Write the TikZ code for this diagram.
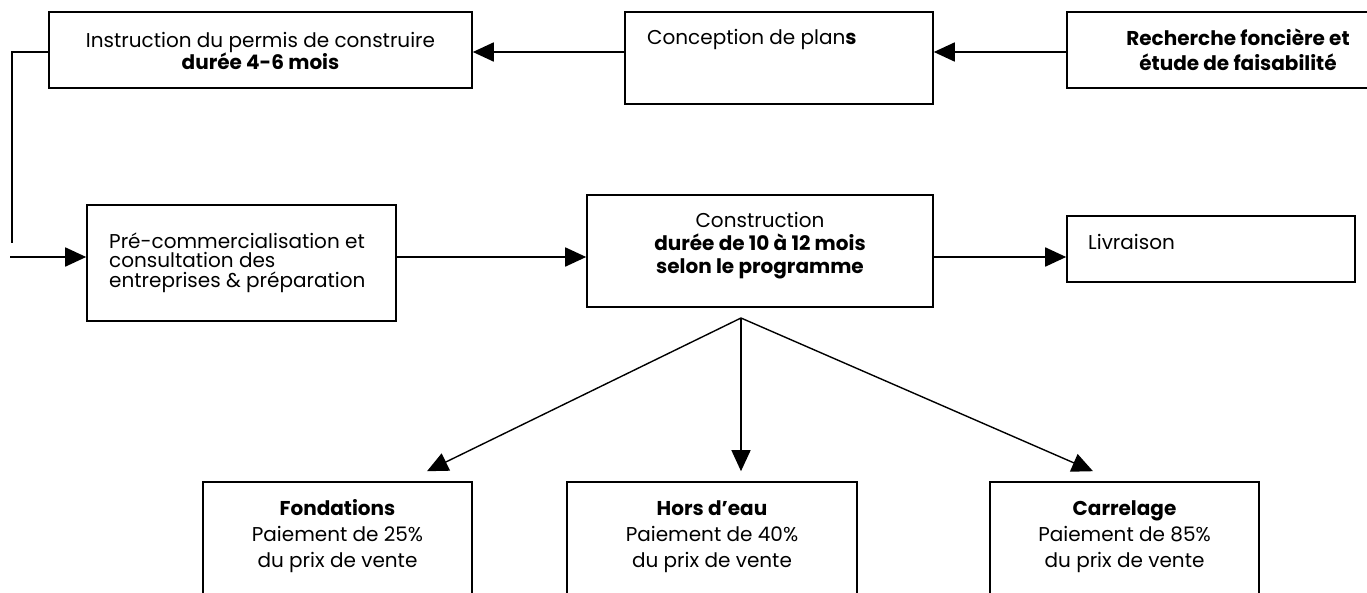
\documentclass[tikz,border=0pt]{standalone}
\usepackage{fontspec}
\setmainfont{Poppins}
\usetikzlibrary{arrows.meta,calc}
\begin{document}
\begin{tikzpicture}[x=1pt,y=-1pt,
  box/.style={draw, line width=1.6pt, inner sep=0pt},
  txt/.style={inner sep=0pt, anchor=base},
  arr/.style={line width=1.8pt, -{Triangle[length=21pt,width=19pt]}},
  farr/.style={line width=1.4pt, -{Triangle[length=21pt,width=19pt]}},
  plain/.style={line width=1.8pt}]
\useasboundingbox (0,0) rectangle (1367,592);
\clip (0,0) rectangle (1367,592);
% boxes
\node[box, minimum width=423pt, minimum height=76pt] (inst) at (260.5,50) {};
\node[box, minimum width=308pt, minimum height=92pt] (conc) at (779,58) {};
\node[box, minimum width=342pt, minimum height=76pt] (rech) at (1238,50) {};
\node[box, minimum width=309pt, minimum height=116pt] (pre) at (241.5,263) {};
\node[box, minimum width=346pt, minimum height=112pt] (cons) at (760,251) {};
\node[box, minimum width=288pt, minimum height=66pt] (livr) at (1211,249) {};
\node[box, minimum width=269pt, minimum height=128pt] (fond) at (337.5,546) {};
\node[box, minimum width=290pt, minimum height=128pt] (hors) at (712,546) {};
\node[box, minimum width=269pt, minimum height=128pt] (carr) at (1124.5,546) {};
% texts (base anchor = baseline of the last line)
\node[txt, align=center, font=\fontsize{20}{22}\selectfont] (instT) at (260.5,69)
  {Instruction du permis de construire\\\textbf{durée 4-6 mois}};
\node[txt, anchor=base west, font=\fontsize{20}{22}\selectfont] (concT) at (647,44)
  {Conception de plan\textbf{s}};
\node[txt, align=center, font=\bfseries\fontsize{20}{25}\selectfont] (rechT) at (1238,70)
  {Recherche foncière et\\étude de faisabilité};
\node[txt, anchor=base west, align=left, font=\fontsize{20}{19.5}\selectfont] (preT) at (109,287)
  {Pré-commercialisation et\\consultation des\\entreprises \& préparation};
\node[txt, align=center, font=\fontsize{20}{23}\selectfont] (consT) at (760,273)
  {Construction\\\textbf{durée de 10 à 12 mois}\\\textbf{selon le programme}};
\node[txt, anchor=base west, font=\fontsize{20}{22}\selectfont] (livrT) at (1088,249)
  {Livraison};
\node[txt, align=center, font=\fontsize{20}{26}\selectfont] (fondT) at (337.5,567)
  {\textbf{Fondations}\\Paiement de 25\%\\du prix de vente};
\node[txt, align=center, font=\fontsize{20}{26}\selectfont] (horsT) at (712,567)
  {\textbf{Hors d’eau}\\Paiement de 40\%\\du prix de vente};
\node[txt, align=center, font=\fontsize{20}{26}\selectfont] (carrT) at (1124.5,567)
  {\textbf{Carrelage}\\Paiement de 85\%\\du prix de vente};
% connectors
\coordinate (c1) at (12,243);
\coordinate (c2) at (10,257);
\coordinate (apex) at (741,318);
\draw[arr] ([yshift=-2pt]rech.west) -- ([yshift=-2pt]rech.west -| conc.east);
\draw[arr] ([yshift=-2pt]inst.east -| conc.west) -- ([yshift=-2pt]inst.east);
\draw[plain] ([yshift=-2pt]inst.west) -| (c1);
\draw[arr] (c2) -- (c2 -| pre.west);
\draw[arr] ([yshift=6pt]pre.east) -- ([yshift=6pt]pre.east -| cons.west);
\draw[arr] ([yshift=-6pt]cons.east) -- ([yshift=-6pt]cons.east -| livr.west);
\draw[farr] (apex) -- ($(fond.north)+(89.5,-10)$);
\draw[farr] (apex) -- ($(hors.north -| apex)+(0,-10)$);
\draw[farr] (apex) -- ($(carr.north)+(-31.5,-10)$);
\end{tikzpicture}
\end{document}
